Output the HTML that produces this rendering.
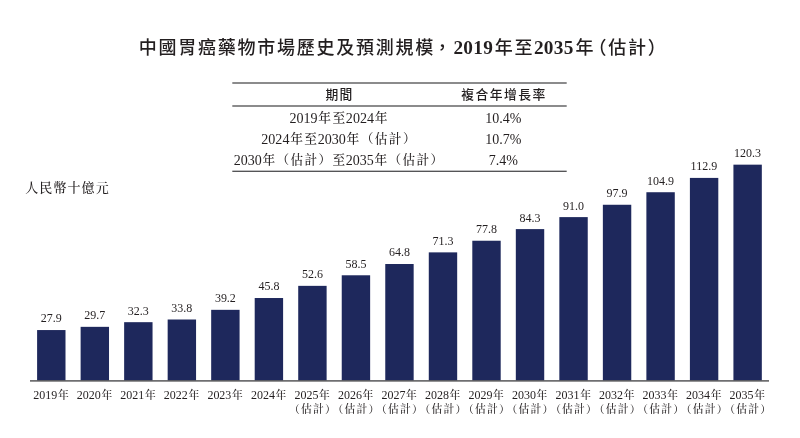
<!DOCTYPE html><html><head><meta charset="utf-8"><title>chart</title><style>html,body{margin:0;padding:0;background:#fff}svg{display:block}text{fill:#231f20}</style></head><body>
<svg width="800" height="438" viewBox="0 0 800 438" font-family='"Liberation Serif","Noto Serif CJK TC","Noto Serif CJK SC",serif'>
<rect width="800" height="438" fill="#fff"/>
<text y="53.6" font-family='"Liberation Serif","Noto Sans CJK TC","Noto Sans CJK SC",sans-serif' font-weight="500" font-size="18" letter-spacing="1.75"><tspan x="138.8">中國胃癌藥物市場歷史及預測規模</tspan><tspan x="433.3">，</tspan><tspan x="453.4" font-size="19.3" font-weight="bold" letter-spacing="0.3">2019</tspan><tspan x="494.8">年至</tspan><tspan x="533.9" font-size="19.3" font-weight="bold" letter-spacing="0.3">2035</tspan><tspan x="575.4">年</tspan><tspan x="588.6">（估計）</tspan></text>
<rect x="232.3" y="82.35" width="334.4" height="1.3" fill="#4d4d4f"/>
<rect x="232.3" y="105.35" width="334.4" height="1.3" fill="#4d4d4f"/>
<rect x="232.3" y="170.65" width="334.4" height="1.3" fill="#4d4d4f"/>
<text x="339.4" y="99" text-anchor="middle" font-family='"Liberation Serif","Noto Sans CJK TC","Noto Sans CJK SC",sans-serif' font-weight="500" font-size="12.8" letter-spacing="1.2">期間</text>
<text x="504" y="99" text-anchor="middle" font-family='"Liberation Serif","Noto Sans CJK TC","Noto Sans CJK SC",sans-serif' font-weight="500" font-size="12.8" letter-spacing="1.45">複合年增長率</text>
<text transform="translate(289.45,123.00) scale(1,1.06)" font-size="14.1">2019</text><text x="318.35" y="122.30" font-size="12.69" font-weight="500" letter-spacing="1.41">年至</text><text transform="translate(345.85,123.00) scale(1,1.06)" font-size="14.1">2024</text><text x="374.75" y="122.30" font-size="12.69" font-weight="500" letter-spacing="1.41">年</text>
<text transform="translate(485.32,123.00) scale(1,1.06)" font-size="14">10.4%</text>
<text transform="translate(261.25,143.75) scale(1,1.06)" font-size="14.1">2024</text><text x="290.15" y="143.05" font-size="12.69" font-weight="500" letter-spacing="1.41">年至</text><text transform="translate(317.65,143.75) scale(1,1.06)" font-size="14.1">2030</text><text x="346.55" y="143.05" font-size="12.69" font-weight="500" letter-spacing="1.41">年（估計）</text>
<text transform="translate(485.32,143.75) scale(1,1.06)" font-size="14">10.7%</text>
<text transform="translate(233.80,164.50) scale(1,1.06)" font-size="14.0">2030</text><text x="262.50" y="163.80" font-size="12.60" font-weight="500" letter-spacing="1.40">年（估計）至</text><text transform="translate(345.80,164.50) scale(1,1.06)" font-size="14.0">2035</text><text x="374.50" y="163.80" font-size="12.60" font-weight="500" letter-spacing="1.40">年（估計）</text>
<text transform="translate(488.82,164.50) scale(1,1.06)" font-size="14">7.4%</text>
<text x="25.2" y="192" font-size="13" font-weight="500" letter-spacing="1.1">人民幣十億元</text>
<rect x="37.10" y="330.06" width="28.4" height="50.44" fill="#1e285c"/>
<text transform="translate(40.80,322.46) scale(1,1.06)" font-size="12">27.9</text>
<text transform="translate(33.30,398.80) scale(1,1.06)" font-size="12">2019</text><text x="57.90" y="398.80" font-size="10.80" font-weight="500" letter-spacing="1.20">年</text>
<rect x="80.62" y="326.84" width="28.4" height="53.66" fill="#1e285c"/>
<text transform="translate(84.32,319.24) scale(1,1.06)" font-size="12">29.7</text>
<text transform="translate(76.82,398.80) scale(1,1.06)" font-size="12">2020</text><text x="101.42" y="398.80" font-size="10.80" font-weight="500" letter-spacing="1.20">年</text>
<rect x="124.14" y="322.18" width="28.4" height="58.32" fill="#1e285c"/>
<text transform="translate(127.84,314.58) scale(1,1.06)" font-size="12">32.3</text>
<text transform="translate(120.34,398.80) scale(1,1.06)" font-size="12">2021</text><text x="144.94" y="398.80" font-size="10.80" font-weight="500" letter-spacing="1.20">年</text>
<rect x="167.66" y="319.50" width="28.4" height="61.00" fill="#1e285c"/>
<text transform="translate(171.36,311.90) scale(1,1.06)" font-size="12">33.8</text>
<text transform="translate(163.86,398.80) scale(1,1.06)" font-size="12">2022</text><text x="188.46" y="398.80" font-size="10.80" font-weight="500" letter-spacing="1.20">年</text>
<rect x="211.18" y="309.83" width="28.4" height="70.67" fill="#1e285c"/>
<text transform="translate(214.88,302.23) scale(1,1.06)" font-size="12">39.2</text>
<text transform="translate(207.38,398.80) scale(1,1.06)" font-size="12">2023</text><text x="231.98" y="398.80" font-size="10.80" font-weight="500" letter-spacing="1.20">年</text>
<rect x="254.70" y="298.02" width="28.4" height="82.48" fill="#1e285c"/>
<text transform="translate(258.40,290.42) scale(1,1.06)" font-size="12">45.8</text>
<text transform="translate(250.90,398.80) scale(1,1.06)" font-size="12">2024</text><text x="275.50" y="398.80" font-size="10.80" font-weight="500" letter-spacing="1.20">年</text>
<rect x="298.22" y="285.85" width="28.4" height="94.65" fill="#1e285c"/>
<text transform="translate(301.92,278.25) scale(1,1.06)" font-size="12">52.6</text>
<text transform="translate(294.42,398.80) scale(1,1.06)" font-size="12">2025</text><text x="319.02" y="398.80" font-size="10.80" font-weight="500" letter-spacing="1.20">年</text>
<text x="289.02" y="412.60" font-size="10.80" font-weight="500" letter-spacing="1.20">（估計）</text>
<rect x="341.74" y="275.28" width="28.4" height="105.22" fill="#1e285c"/>
<text transform="translate(345.44,267.68) scale(1,1.06)" font-size="12">58.5</text>
<text transform="translate(337.94,398.80) scale(1,1.06)" font-size="12">2026</text><text x="362.54" y="398.80" font-size="10.80" font-weight="500" letter-spacing="1.20">年</text>
<text x="332.54" y="412.60" font-size="10.80" font-weight="500" letter-spacing="1.20">（估計）</text>
<rect x="385.26" y="264.01" width="28.4" height="116.49" fill="#1e285c"/>
<text transform="translate(388.96,256.41) scale(1,1.06)" font-size="12">64.8</text>
<text transform="translate(381.46,398.80) scale(1,1.06)" font-size="12">2027</text><text x="406.06" y="398.80" font-size="10.80" font-weight="500" letter-spacing="1.20">年</text>
<text x="376.06" y="412.60" font-size="10.80" font-weight="500" letter-spacing="1.20">（估計）</text>
<rect x="428.78" y="252.37" width="28.4" height="128.13" fill="#1e285c"/>
<text transform="translate(432.48,244.77) scale(1,1.06)" font-size="12">71.3</text>
<text transform="translate(424.98,398.80) scale(1,1.06)" font-size="12">2028</text><text x="449.58" y="398.80" font-size="10.80" font-weight="500" letter-spacing="1.20">年</text>
<text x="419.58" y="412.60" font-size="10.80" font-weight="500" letter-spacing="1.20">（估計）</text>
<rect x="472.30" y="240.74" width="28.4" height="139.76" fill="#1e285c"/>
<text transform="translate(476.00,233.14) scale(1,1.06)" font-size="12">77.8</text>
<text transform="translate(468.50,398.80) scale(1,1.06)" font-size="12">2029</text><text x="493.10" y="398.80" font-size="10.80" font-weight="500" letter-spacing="1.20">年</text>
<text x="463.10" y="412.60" font-size="10.80" font-weight="500" letter-spacing="1.20">（估計）</text>
<rect x="515.82" y="229.10" width="28.4" height="151.40" fill="#1e285c"/>
<text transform="translate(519.52,221.50) scale(1,1.06)" font-size="12">84.3</text>
<text transform="translate(512.02,398.80) scale(1,1.06)" font-size="12">2030</text><text x="536.62" y="398.80" font-size="10.80" font-weight="500" letter-spacing="1.20">年</text>
<text x="506.62" y="412.60" font-size="10.80" font-weight="500" letter-spacing="1.20">（估計）</text>
<rect x="559.34" y="217.11" width="28.4" height="163.39" fill="#1e285c"/>
<text transform="translate(563.04,209.51) scale(1,1.06)" font-size="12">91.0</text>
<text transform="translate(555.54,398.80) scale(1,1.06)" font-size="12">2031</text><text x="580.14" y="398.80" font-size="10.80" font-weight="500" letter-spacing="1.20">年</text>
<text x="550.14" y="412.60" font-size="10.80" font-weight="500" letter-spacing="1.20">（估計）</text>
<rect x="602.86" y="204.76" width="28.4" height="175.74" fill="#1e285c"/>
<text transform="translate(606.56,197.16) scale(1,1.06)" font-size="12">97.9</text>
<text transform="translate(599.06,398.80) scale(1,1.06)" font-size="12">2032</text><text x="623.66" y="398.80" font-size="10.80" font-weight="500" letter-spacing="1.20">年</text>
<text x="593.66" y="412.60" font-size="10.80" font-weight="500" letter-spacing="1.20">（估計）</text>
<rect x="646.38" y="192.23" width="28.4" height="188.27" fill="#1e285c"/>
<text transform="translate(647.08,184.63) scale(1,1.06)" font-size="12">104.9</text>
<text transform="translate(642.58,398.80) scale(1,1.06)" font-size="12">2033</text><text x="667.18" y="398.80" font-size="10.80" font-weight="500" letter-spacing="1.20">年</text>
<text x="637.18" y="412.60" font-size="10.80" font-weight="500" letter-spacing="1.20">（估計）</text>
<rect x="689.90" y="177.91" width="28.4" height="202.59" fill="#1e285c"/>
<text transform="translate(690.60,170.31) scale(1,1.06)" font-size="12">112.9</text>
<text transform="translate(686.10,398.80) scale(1,1.06)" font-size="12">2034</text><text x="710.70" y="398.80" font-size="10.80" font-weight="500" letter-spacing="1.20">年</text>
<text x="680.70" y="412.60" font-size="10.80" font-weight="500" letter-spacing="1.20">（估計）</text>
<rect x="733.42" y="164.66" width="28.4" height="215.84" fill="#1e285c"/>
<text transform="translate(734.12,157.06) scale(1,1.06)" font-size="12">120.3</text>
<text transform="translate(729.62,398.80) scale(1,1.06)" font-size="12">2035</text><text x="754.22" y="398.80" font-size="10.80" font-weight="500" letter-spacing="1.20">年</text>
<text x="724.22" y="412.60" font-size="10.80" font-weight="500" letter-spacing="1.20">（估計）</text>
<rect x="30" y="380.2" width="739" height="1.4" fill="#4d4d4f"/>
</svg></body></html>
